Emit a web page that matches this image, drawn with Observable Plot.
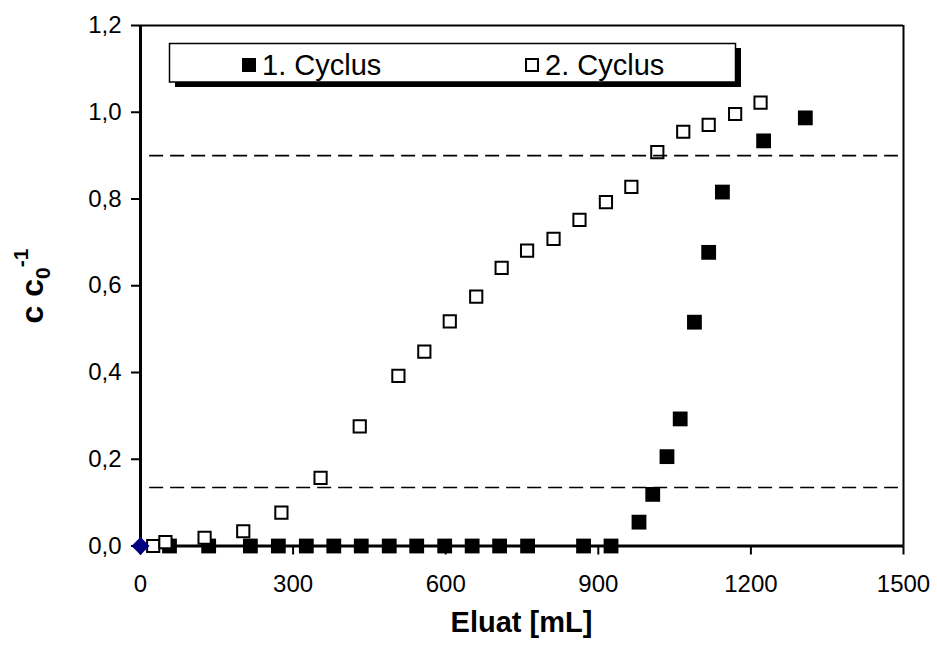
<!DOCTYPE html>
<html>
<head>
<meta charset="utf-8">
<script src="https://cdn.jsdelivr.net/npm/d3@7"></script>
<script src="https://cdn.jsdelivr.net/npm/@observablehq/plot@0.6"></script>
<style>
  html, body { margin: 0; padding: 0; background: #fff; }
  #chart svg { display: block; }
  #chart svg [aria-label*="axis"] line,
  #chart svg [aria-label*="axis"] path { stroke-width: 2px; stroke: #000; }
</style>
</head>
<body>
<div id="chart"></div>
<script>
// ---- data ----
const xTicks = [0, 300, 600, 900, 1200, 1500];
const yTicks = [0, 0.2, 0.4, 0.6, 0.8, 1.0, 1.2];

const cycle1X = [57, 134, 216, 271, 326, 380, 434, 489, 543, 598, 652, 706, 761, 871, 925,
                 980, 1007, 1035, 1061, 1089, 1117, 1144, 1225, 1307];
const cycle1Y = [0, 0, 0, 0, 0, 0, 0, 0, 0, 0, 0, 0, 0, 0, 0,
                 0.055, 0.119, 0.206, 0.293, 0.516, 0.677, 0.816, 0.934, 0.987];

const cycle2X = [25, 49, 126, 202, 277, 354, 431, 507, 558, 608, 660, 710, 760, 812, 863,
                 915, 965, 1016, 1067, 1117, 1169, 1219];
const cycle2Y = [0.0, 0.009, 0.019, 0.034, 0.077, 0.157, 0.276, 0.392, 0.448, 0.518, 0.575,
                 0.641, 0.681, 0.708, 0.752, 0.793, 0.828, 0.908, 0.955, 0.971, 0.996, 1.022];

const originX = [0];
const originY = [0];

const thresholds = [0.9, 0.135];
const thresholdSpan = [18, 1490];

const seriesNames = ["1. Cyclus", "2. Cyclus"];
const xTitle = "Eluat [mL]";

// ---- build tables ----
const cycle1 = cycle1X.map((x, i) => ({x, y: cycle1Y[i]}));
const cycle2 = cycle2X.map((x, i) => ({x, y: cycle2Y[i]}));
const origin = originX.map((x, i) => ({x, y: originY[i]}));

const diamondSymbol = {
  draw(ctx, size) {
    const r = Math.sqrt(size / Math.PI);
    ctx.moveTo(0, -r); ctx.lineTo(r, 0); ctx.lineTo(0, r); ctx.lineTo(-r, 0); ctx.closePath();
  }
};
const squareSymbol = {
  draw(ctx, size) {
    const r = Math.sqrt(size / Math.PI);
    ctx.rect(-r, -r, 2 * r, 2 * r);
  }
};

const W = 937, H = 657;
const mL = 140, mR = 34, mT = 25, mB = 111.5;
const FONT = "'Liberation Sans', Arial, sans-serif";

const svg = Plot.plot({
  width: W, height: H,
  marginLeft: mL, marginRight: mR, marginTop: mT, marginBottom: mB,
  style: {background: "#fff", color: "#000", fontFamily: FONT, fontSize: "24px"},
  x: {domain: [0, 1500], ticks: xTicks, tickFormat: d => String(d), tickSize: 9, tickPadding: 20, label: null},
  y: {domain: [0, 1.2], ticks: yTicks, tickFormat: d => d.toFixed(1).replace(".", ","), tickSize: 9, tickPadding: 10, label: null},
  marks: [
    Plot.ruleY([1.2], {stroke: "#000", strokeWidth: 2}),
    Plot.ruleX([1500], {stroke: "#000", strokeWidth: 2}),
    Plot.ruleX([0], {stroke: "#000", strokeWidth: 3}),
    Plot.ruleY([0], {stroke: "#000", strokeWidth: 3}),
    Plot.dot(cycle1, {x: "x", y: "y", symbol: squareSymbol, r: 7.4, fill: "#000", stroke: "none"}),
    Plot.dot(cycle2, {x: "x", y: "y", symbol: squareSymbol, r: 6.1, fill: "#fff", stroke: "#000", strokeWidth: 2}),
    Plot.ruleY(thresholds, {x1: thresholdSpan[0], x2: thresholdSpan[1], stroke: "#000", strokeWidth: 1.6, strokeDasharray: "14,7"}),
    Plot.dot(origin, {x: "x", y: "y", symbol: diamondSymbol, r: 9, fill: "#000080", stroke: "none"})
  ]
});

const s = d3.select(svg);

// y-axis title: c c0^-1
const yt = s.append("text")
  .attr("transform", "translate(43,286) rotate(-90)")
  .attr("text-anchor", "middle")
  .attr("font-family", FONT)
  .attr("font-weight", "bold")
  .attr("font-size", 32)
  .attr("fill", "#000");
yt.append("tspan").text("c c");
yt.append("tspan").attr("font-size", 21).attr("dy", 7).text("0");
yt.append("tspan").attr("font-size", 21).attr("dy", -22).text("-1");

// x-axis title
s.append("text")
  .attr("x", mL + (W - mL - mR) / 2)
  .attr("y", 632)
  .attr("text-anchor", "middle")
  .attr("font-family", FONT)
  .attr("font-weight", "bold")
  .attr("font-size", 29)
  .attr("fill", "#000")
  .text(xTitle);

// legend
const lg = s.append("g").attr("font-family", FONT).attr("text-anchor", "start");
lg.append("rect").attr("x", 175).attr("y", 48).attr("width", 566).attr("height", 39).attr("fill", "#000");
lg.append("rect").attr("x", 169.5).attr("y", 43.5).attr("width", 566).attr("height", 38.5)
  .attr("fill", "#fff").attr("stroke", "#000").attr("stroke-width", 1.5);
lg.append("rect").attr("x", 242).attr("y", 58).attr("width", 14).attr("height", 14).attr("fill", "#000");
lg.append("text").attr("x", 262).attr("y", 75).attr("font-size", 29).attr("fill", "#000")
  .attr("text-anchor", "start").text(seriesNames[0]);
lg.append("rect").attr("x", 526).attr("y", 59).attr("width", 12).attr("height", 12)
  .attr("fill", "#fff").attr("stroke", "#000").attr("stroke-width", 2);
lg.append("text").attr("x", 545).attr("y", 75).attr("font-size", 29).attr("fill", "#000")
  .attr("text-anchor", "start").text(seriesNames[1]);

document.getElementById("chart").appendChild(svg);
</script>
</body>
</html>
